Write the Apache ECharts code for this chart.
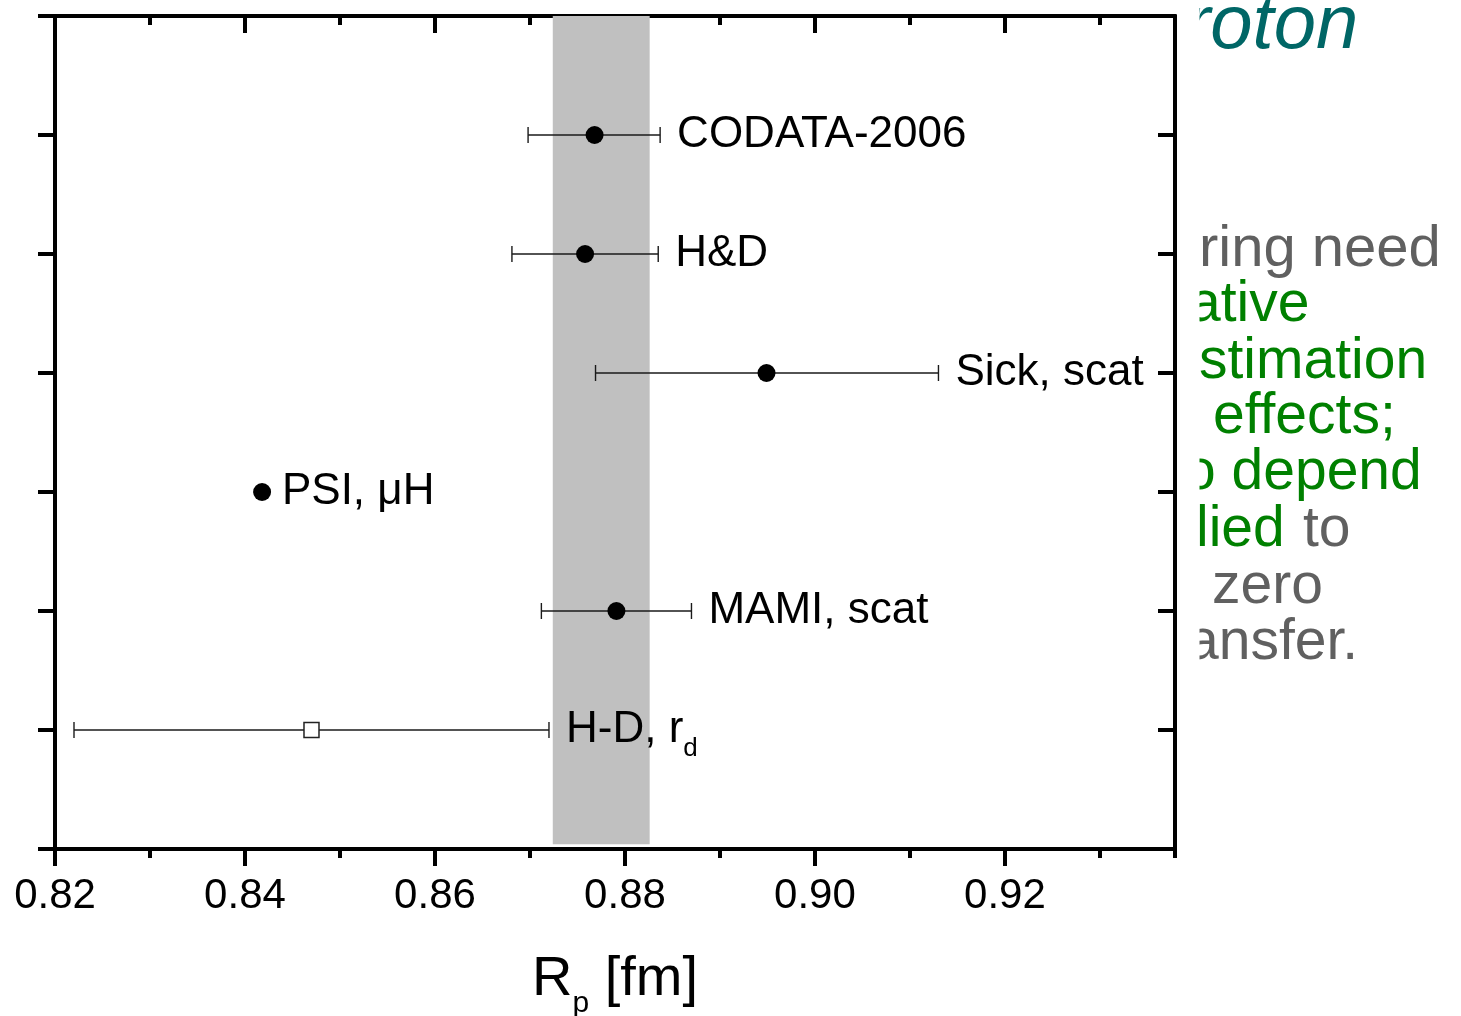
<!DOCTYPE html>
<html><head><meta charset="utf-8">
<script src="https://cdn.jsdelivr.net/npm/echarts@6/dist/echarts.min.js"></script>
<style>html,body{margin:0;padding:0;background:#fff}#c{width:1461px;height:1016px}</style>
</head><body><div id="c"></div>
<script>
// ---- data ----
const labels     = ['CODATA-2006', 'H&D', 'Sick, scat', 'PSI, μH', 'MAMI, scat', 'H-D, r'];
const labelSubs  = ['', '', '', '', '', 'd'];
const rowPos     = [6, 5, 4, 3, 2, 1];
const centers    = [0.8768, 0.8758, 0.8949, 0.8418, 0.8791, 0.8470];
const lowErr     = [0.8698, 0.8681, 0.8769, 0.8415, 0.8712, 0.8220];
const highErr    = [0.8837, 0.8835, 0.9130, 0.8421, 0.8870, 0.8720];
const openMarker = [false, false, false, false, false, true];
const bandX      = [0.8724, 0.8826];
const bandY      = [0.04, 7];
const xRange     = [0.82, 0.9379];
const xMajor     = 0.02;
const xMinor     = 0.01;
const yRange     = [0, 7];

// background slide text (cut off at the right)
const sideTexts = [
  {t: 'roton',      c: '#006666', x: 1185, b: 53,  s: 76, it: true},
  {t: 'ring need',  c: '#606060', x: 1199, b: 270, s: 58},
  {t: 'ative',      c: '#008000', x: 1189, b: 325, s: 57},
  {t: 'stimation',  c: '#008000', x: 1199, b: 382, s: 57},
  {t: 'effects;',   c: '#008000', x: 1213, b: 437, s: 57},
  {t: 'o depend',   c: '#008000', x: 1184, b: 493, s: 57},
  {t: 'lied',       c: '#008000', x: 1196, b: 550, s: 57},
  {t: 'to',         c: '#606060', x: 1303, b: 550, s: 57},
  {t: 'zero',       c: '#606060', x: 1212, b: 607, s: 57},
  {t: 'ansfer.',    c: '#606060', x: 1187, b: 663, s: 57}
];

const FONT = '"Liberation Sans", Arial, Helvetica, sans-serif';
const chart = echarts.init(document.getElementById('c'), null, {renderer: 'canvas'});

const errData = labels.map((l, i) => [lowErr[i], highErr[i], rowPos[i], i]);
const ptData = centers.map((v, i) => ({
  value: [v, rowPos[i]],
  symbol: openMarker[i] ? 'rect' : 'circle',
  symbolSize: openMarker[i] ? 15 : 18,
  itemStyle: openMarker[i]
    ? {color: '#fff', borderColor: '#222', borderWidth: 1.5, opacity: 1}
    : {color: '#000', opacity: 1}
}));

const axLine = {show: true, lineStyle: {color: '#000', width: 4}};
function xAx(pos, interval, len, inside, labels) {
  return {
    type: 'value', position: pos, min: xRange[0], max: xRange[1], interval: interval,
    axisLine: axLine,
    axisTick: {show: true, inside: inside, length: len, lineStyle: {color: '#000', width: 4}},
    axisLabel: labels ? {
      show: true, margin: 26, fontSize: 42, fontFamily: FONT, color: '#000',
      showMaxLabel: false, formatter: v => v.toFixed(2)
    } : {show: false},
    splitLine: {show: false}
  };
}
const xAxes = [
  xAx('bottom', xMajor, 17, false, true),
  xAx('bottom', xMinor, 9, false, false),
  xAx('top', xMajor, 17, true, false),
  xAx('top', xMinor, 9, true, false)
];
xAxes[0].name = '{r|R}{p|p}{r| [fm]}';
xAxes[0].nameLocation = 'middle';
xAxes[0].nameGap = 92;
xAxes[0].nameTextStyle = {
  color: '#000', fontFamily: FONT, fontSize: 56,
  rich: {
    r: {fontSize: 56, lineHeight: 78, fontFamily: FONT, color: '#000'},
    p: {fontSize: 30, lineHeight: 30, fontFamily: FONT, color: '#000', verticalAlign: 'bottom'}
  }
};

function yAx(pos, inside) {
  return {
    type: 'value', position: pos, min: yRange[0], max: yRange[1], interval: 1,
    axisLine: axLine,
    axisTick: {show: true, inside: inside, length: 17, lineStyle: {color: '#000', width: 4}},
    axisLabel: {show: false}, splitLine: {show: false}
  };
}

const graphic = [];
sideTexts.forEach(o => {
  graphic.push({
    type: 'text', x: o.x, y: o.b - 0.3465 * o.s, z: 1, silent: true,
    style: {
      text: o.t, fill: o.c,
      font: (o.it ? 'italic ' : '') + o.s + 'px ' + FONT,
      align: 'left', verticalAlign: 'middle'
    }
  });
});
graphic.push({
  type: 'rect', z: 5, silent: true,
  shape: {x: 1179, y: 0, width: 20.5, height: 720},
  style: {fill: '#fff'}
});

chart.setOption({
  backgroundColor: '#fff',
  animation: false,
  grid: {left: 55, top: 16, right: 286, bottom: 167, containLabel: false, outerBoundsMode: 'none'},
  xAxis: xAxes,
  yAxis: [yAx('left', false), yAx('right', true)],
  graphic: graphic,
  series: [
    {
      type: 'custom', xAxisIndex: 0, yAxisIndex: 0, z: 3,
      data: errData,
      encode: {x: [0, 1], y: 2},
      renderItem: function (params, api) {
        const lo = api.coord([api.value(0), api.value(2)]);
        const hi = api.coord([api.value(1), api.value(2)]);
        const idx = api.value(3);
        const cap = 8;
        const ls = {stroke: '#1a1a1a', lineWidth: 1.4};
        const sub = labelSubs[idx];
        const txt = '{m|' + labels[idx] + '}' + (sub ? '{s|' + sub + '}' : '');
        return {
          type: 'group',
          children: [
            {type: 'line', shape: {x1: lo[0], y1: lo[1], x2: hi[0], y2: hi[1]}, style: ls},
            {type: 'line', shape: {x1: lo[0], y1: lo[1] - cap, x2: lo[0], y2: lo[1] + cap}, style: ls},
            {type: 'line', shape: {x1: hi[0], y1: hi[1] - cap, x2: hi[0], y2: hi[1] + cap}, style: ls},
            {
              type: 'text', x: hi[0] + 17, y: hi[1],
              style: {
                text: txt, align: 'left', verticalAlign: 'middle', fill: '#000',
                rich: {
                  m: {fontSize: 44, fontFamily: FONT, lineHeight: 64, fill: '#000'},
                  s: {fontSize: 26, fontFamily: FONT, lineHeight: 26, fill: '#000', verticalAlign: 'bottom'}
                }
              }
            }
          ]
        };
      }
    },
    {
      type: 'scatter', xAxisIndex: 0, yAxisIndex: 0, z: 4,
      data: ptData,
      markArea: {
        silent: true,
        itemStyle: {color: '#c0c0c0', opacity: 1},
        data: [[{xAxis: bandX[0], yAxis: bandY[0]}, {xAxis: bandX[1], yAxis: bandY[1]}]]
      }
    }
  ]
});
</script></body></html>
